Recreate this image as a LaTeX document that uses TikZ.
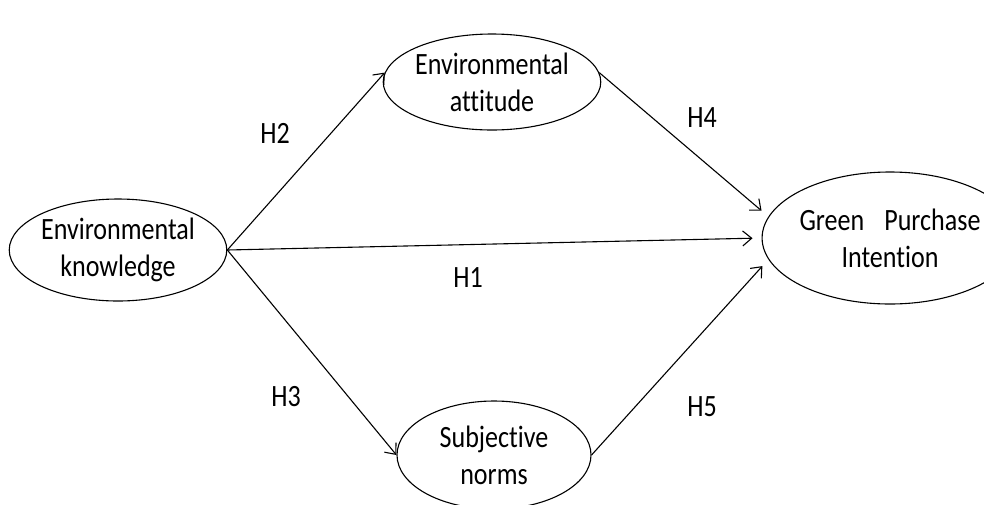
\documentclass[tikz,border=0pt]{standalone}
\usepackage{fontspec}
\setmainfont{Carlito}[FakeStretch=0.84, Ligatures={NoCommon}]
\usetikzlibrary{shapes.geometric,arrows.meta,positioning}

\begin{document}
\begin{tikzpicture}[x=1pt, y=-1pt,
    construct/.style={ellipse, draw, line width=1.1pt, inner sep=0pt, align=center,
        font=\fontsize{31}{37}\selectfont},
    hyp/.style={font=\fontsize{31}{37}\selectfont},
    arrow/.style={-{Straight Barb[length=9pt,width=15pt]}, line width=1.1pt}]

    \useasboundingbox (0,0) rectangle (984,504);
    \clip (0,0) rectangle (984,504);

    \node[construct, minimum width=212pt, minimum height=102pt] (know) at (118,250) {Environmental\\knowledge};
    \node[construct, minimum width=192pt, minimum height=96pt] (att) at (492,82) {Environmental\\attitude};
    \node[construct, minimum width=232pt, minimum height=132pt] (gpi) at (890,238) {Green\hspace{20pt}Purchase\\Intention};
    \node[construct, minimum width=194pt, minimum height=108pt] (norms) at (494,455) {Subjective\\norms};

    \node[hyp] (h2) at (275,133) {H2};
    \node[hyp] (h4) at (702,118) {H4};
    \node[hyp] (h1) at (468,278) {H1};
    \node[hyp] (h3) at (286,397) {H3};
    \node[hyp] (h5) at (702,407) {H5};

    \draw[arrow] (know.east) -- (att.175);
    \draw[arrow] (know.east) -- (norms.west);
    \draw[arrow, shorten >=9pt] (know.east) -- (gpi.180);
    \draw[arrow, shorten >=9pt] (att.5) -- (gpi.170);
    \draw[arrow, shorten >=9pt] (norms.east) -- (gpi.190);
\end{tikzpicture}
\end{document}
